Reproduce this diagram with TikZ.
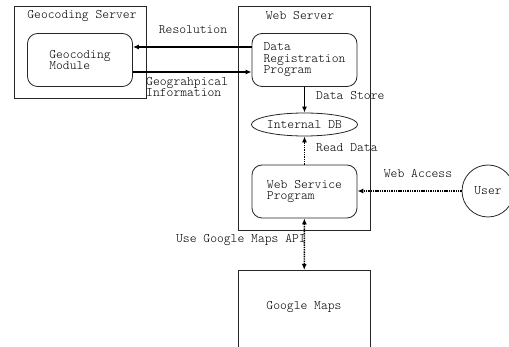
\documentclass[tikz,border=0pt]{standalone}
\usetikzlibrary{shapes.geometric,arrows.meta}

\begin{document}
\begin{tikzpicture}[
  x=1pt, y=-1pt,
  font=\ttfamily\fontseries{l}\fontsize{13}{11.5}\selectfont,
  server/.style={draw=black!85, line width=0.8pt, minimum width=132pt},
  module/.style={draw=black!85, line width=0.8pt, rounded corners=10pt, minimum width=105pt, minimum height=53pt, align=left},
  db/.style={draw=black!85, line width=0.8pt, ellipse, minimum width=105pt, minimum height=23pt, inner sep=0pt},
  flow/.style={-{Latex[length=6pt,width=5pt]}, line width=1.5pt},
  dflow/.style={flow, dash pattern=on 1.4pt off 0.9pt},
  lbl/.style={inner sep=1pt, align=left},
]
\useasboundingbox (0,0) rectangle (509,347);
\clip (0,0) rectangle (509,347);

% Geocoding server side
\node[server, minimum height=92pt] (geoserver) at (80,52) {};
\node (geotitle) at (82,16) {Geocoding Server};
\node[module] (geomodule) at (80,60) {Geocoding\\Module};

% Web server side
\node[server, minimum height=224pt] (webserver) at (304,118) {};
\node (webtitle) at (300,16) {Web Server};
\node[module] (datareg) at (304.5,60) {Data\\Registration\\Program};
\node[db] (internaldb) at (304.5,124.5) {Internal DB};
\node[module] (websvc) at (304.5,191.5) {Web Service\\Program};

% Outside world
\node[circle, draw=black!85, line width=0.8pt, minimum size=52pt, inner sep=0pt] (user) at (488,191) {};
\node (usertext) at (488,191) {User};
\node[server, minimum height=130pt, anchor=north] (gmaps) at (304,270) {};
\node (gmapstext) at (304,307) {Google Maps};

% Connectors
\draw[flow] ([yshift=13pt]datareg.west) -- ([yshift=13pt]geomodule.east);
\node[lbl] (reslbl) at (193,30) {Resolution};
\draw[flow] ([yshift=-12pt]geomodule.east) -- ([yshift=-12pt]datareg.west);
\node[lbl, anchor=north west] (geolbl) at (145,76) {Geograhpical\\Information};

\draw[flow] (datareg) -- (internaldb);
\node[lbl, anchor=west] (storelbl) at (315,96) {Data Store};
\draw[dflow] (websvc) -- (internaldb);
\node[lbl, anchor=west] (readlbl) at (315,148) {Read Data};

\draw[dflow] (user) -- (websvc.east |- user);
\node[lbl] (accesslbl) at (418,174) {Web Access};

\draw[dflow, {Latex[length=6pt,width=5pt]}-{Latex[length=6pt,width=5pt]}] (websvc) -- (gmaps);
\node[lbl, anchor=east] (apilbl) at (307,240) {Use Google Maps API};
\end{tikzpicture}
\end{document}
